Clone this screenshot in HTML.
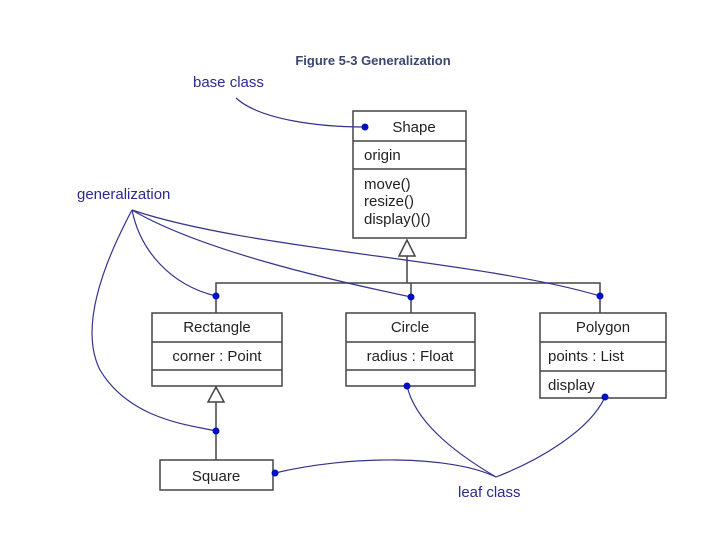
<!DOCTYPE html>
<html><head><style>
body{margin:0;background:#fff;}
svg text{font-family:"Liberation Sans",sans-serif;}
</style></head><body>
<svg width="720" height="540" viewBox="0 0 720 540" xmlns="http://www.w3.org/2000/svg">
<g fill="#fff" stroke="#444" stroke-width="1.5">
<rect x="353" y="111" width="113" height="127"/>
<line x1="353" y1="141" x2="466" y2="141"/>
<line x1="353" y1="169" x2="466" y2="169"/>
<rect x="152" y="313" width="130" height="73"/>
<line x1="152" y1="342" x2="282" y2="342"/>
<line x1="152" y1="370" x2="282" y2="370"/>
<rect x="346" y="313" width="129" height="73"/>
<line x1="346" y1="342" x2="475" y2="342"/>
<line x1="346" y1="370" x2="475" y2="370"/>
<rect x="540" y="313" width="126" height="85"/>
<line x1="540" y1="342" x2="666" y2="342"/>
<line x1="540" y1="371" x2="666" y2="371"/>
<rect x="160" y="460" width="113" height="30"/>
<polyline fill="none" points="407,256 407,283"/>
<polyline fill="none" points="216,313 216,283 600,283 600,313"/>
<line x1="411" y1="283" x2="411" y2="313"/>
<polygon points="407,240 399,256 415,256"/>
<line x1="216" y1="402" x2="216" y2="460"/>
<polygon points="216,387 208,402 224,402"/>
</g>
<g fill="none" stroke="#33338a" stroke-width="1.2">
<path d="M236,98 C260,120 320,127 365,127"/>
<path d="M132,210 C140,250 170,285 216,296"/>
<path d="M132,210 C200,250 330,280 411,297"/>
<path d="M132,210 C250,250 480,260 600,296"/>
<path d="M132,210 C100,270 80,330 100,370 C130,420 190,425 216,431"/>
<path d="M407,386 C415,420 450,450 496,477"/>
<path d="M605,397 C590,430 540,460 496,477"/>
<path d="M275,473 C350,455 450,455 496,477"/>
</g>
<g fill="#0010c0">
<circle cx="365" cy="127" r="3.5"/><circle cx="216" cy="296" r="3.5"/>
<circle cx="411" cy="297" r="3.5"/><circle cx="600" cy="296" r="3.5"/>
<circle cx="216" cy="431" r="3.5"/><circle cx="407" cy="386" r="3.5"/>
<circle cx="605" cy="397" r="3.5"/><circle cx="275" cy="473" r="3.5"/>
</g>
<g font-size="15" fill="#222">
<text x="414" y="132" text-anchor="middle">Shape</text>
<text x="364" y="160">origin</text>
<text x="364" y="189">move()</text>
<text x="364" y="206">resize()</text>
<text x="364" y="224">display()()</text>
<text x="217" y="332" text-anchor="middle">Rectangle</text>
<text x="217" y="361" text-anchor="middle">corner : Point</text>
<text x="410" y="332" text-anchor="middle">Circle</text>
<text x="410" y="361" text-anchor="middle">radius : Float</text>
<text x="603" y="332" text-anchor="middle">Polygon</text>
<text x="548" y="361">points : List</text>
<text x="548" y="390">display</text>
<text x="216" y="481" text-anchor="middle">Square</text>
</g>
<text x="373" y="65" text-anchor="middle" font-size="13" font-weight="bold" fill="#3a4670">Figure 5-3 Generalization</text>
<g font-size="15" fill="#2a2a90">
<text x="193" y="87">base class</text>
<text x="77" y="199">generalization</text>
<text x="458" y="497">leaf class</text>
</g>
</svg>
</body></html>
